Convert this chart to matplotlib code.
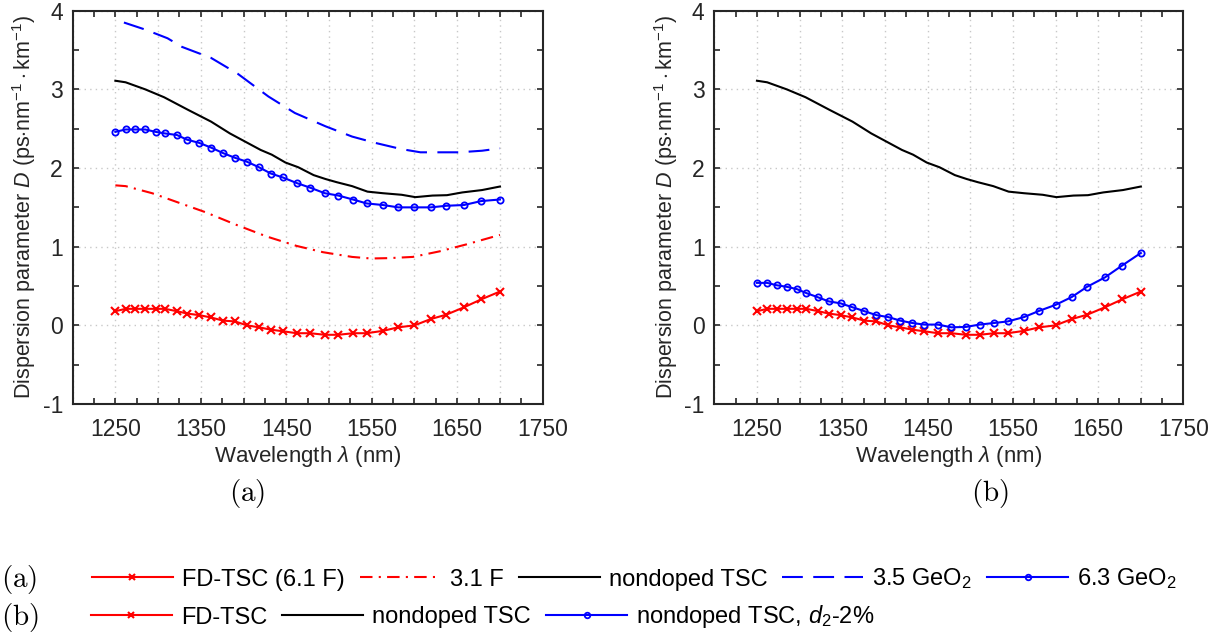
import matplotlib
matplotlib.use("Agg")
import matplotlib.pyplot as plt
from matplotlib.ticker import FixedLocator, MultipleLocator, FuncFormatter

plt.rcParams['font.family'] = ['Liberation Sans', 'DejaVu Sans']
plt.rcParams['mathtext.fontset'] = 'custom'
plt.rcParams['mathtext.rm'] = 'Liberation Sans'
plt.rcParams['mathtext.it'] = 'Liberation Sans:italic'
plt.rcParams['mathtext.bf'] = 'Liberation Sans:bold'
plt.rcParams['axes.unicode_minus'] = False

# datos
lam_m = [1250, 1262, 1273, 1285, 1297, 1308, 1322, 1334, 1348, 1362,
         1376, 1390, 1404, 1418, 1432, 1446, 1462, 1478, 1495, 1511,
         1528, 1544, 1563, 1581, 1600, 1619, 1637, 1658, 1678, 1700]
fd_tsc = [0.18, 0.21, 0.21, 0.21, 0.21, 0.21, 0.18, 0.15, 0.13, 0.10,
          0.06, 0.05, 0.00, -0.025, -0.055, -0.075, -0.10, -0.10, -0.12, -0.12,
          -0.10, -0.10, -0.07, -0.025, 0.00, 0.08, 0.135, 0.23, 0.33, 0.43]
geo_63 = [2.46, 2.49, 2.49, 2.49, 2.46, 2.44, 2.42, 2.36, 2.32, 2.26,
          2.19, 2.13, 2.08, 2.01, 1.93, 1.88, 1.81, 1.75, 1.68, 1.65,
          1.60, 1.55, 1.53, 1.50, 1.50, 1.50, 1.52, 1.53, 1.58, 1.60]
d2_menos2 = [0.54, 0.54, 0.51, 0.49, 0.46, 0.41, 0.355, 0.305, 0.28, 0.23,
             0.18, 0.13, 0.105, 0.06, 0.03, 0.01, 0.01, -0.025, -0.02, 0.01,
             0.03, 0.05, 0.105, 0.185, 0.26, 0.36, 0.49, 0.61, 0.76, 0.92]

lam_nd = [1250, 1262, 1285, 1307, 1335, 1362, 1384, 1420, 1433, 1449, 1464,
          1482, 1496, 1509, 1527, 1545, 1563, 1585, 1601, 1621, 1638, 1656, 1679, 1700]
nondoped = [3.11, 3.09, 3.00, 2.90, 2.74, 2.59, 2.44, 2.23, 2.17, 2.07, 2.01,
            1.91, 1.86, 1.82, 1.77, 1.70, 1.68, 1.66, 1.63, 1.65, 1.655, 1.69, 1.72, 1.765]

lam_35 = [1260, 1285, 1311, 1328, 1362, 1393, 1429, 1460, 1496, 1527, 1554,
          1585, 1607, 1629, 1652, 1679, 1700]
geo_35 = [3.85, 3.76, 3.65, 3.54, 3.40, 3.20, 2.91, 2.70, 2.53, 2.40, 2.32,
          2.24, 2.20, 2.20, 2.20, 2.22, 2.25]

lam_31 = [1250, 1262, 1293, 1324, 1355, 1391, 1427, 1462, 1493, 1527, 1549,
          1571, 1598, 1629, 1661, 1700]
f_31 = [1.78, 1.77, 1.68, 1.56, 1.44, 1.28, 1.13, 1.01, 0.93, 0.87, 0.85,
        0.855, 0.87, 0.94, 1.03, 1.15]

xlabel = r'Wavelength $\lambda$ (nm)'
ylabel = r'Dispersion parameter $D$ (ps$\cdot$nm$^{-1}\cdot$km$^{-1}$)'
fs_lab = 16
fs_leg = 17

fig = plt.figure(figsize=(12.25, 6.42), dpi=100)
ax1 = fig.add_axes([0.0593, 0.3707, 0.3837, 0.6126])
ax2 = fig.add_axes([0.5831, 0.3707, 0.3830, 0.6126])

lw = 1.5
# panel (a)
h_fd, = ax1.plot(lam_m, fd_tsc, color='red', lw=lw, marker='x', ms=6, mew=1.5)
h_31, = ax1.plot(lam_31, f_31, color='red', lw=lw, ls=(0, (6, 3, 1, 3)))
h_nd, = ax1.plot(lam_nd, nondoped, color='black', lw=lw)
h_35, = ax1.plot(lam_35, geo_35, color='blue', lw=lw, ls=(0, (10, 5)))
h_63, = ax1.plot(lam_m, geo_63, color='blue', lw=lw, marker='o', ms=4.5,
                 mfc='none', mew=1.3)

# panel (b)
g_fd, = ax2.plot(lam_m, fd_tsc, color='red', lw=lw, marker='x', ms=6, mew=1.5)
g_nd, = ax2.plot(lam_nd, nondoped, color='black', lw=lw)
g_d2, = ax2.plot(lam_m, d2_menos2, color='blue', lw=lw, marker='o', ms=4.5,
                 mfc='none', mew=1.3)

def etiqueta(v, pos):
    v = int(round(v))
    if (v - 1250) % 100 == 0:
        return str(v)
    return ''

for ax in (ax1, ax2):
    ax.set_xlim(1200, 1750)
    ax.set_ylim(-1, 4)
    ax.xaxis.set_major_locator(FixedLocator(list(range(1200, 1751, 50))))
    ax.xaxis.set_major_formatter(FuncFormatter(etiqueta))
    ax.xaxis.set_minor_locator(MultipleLocator(25))
    ax.yaxis.set_major_locator(MultipleLocator(1))
    ax.yaxis.set_minor_locator(MultipleLocator(0.5))
    ax.tick_params(which='both', direction='in', top=True, right=True,
                   width=1.2, length=4, colors='#262626', labelcolor='#262626')
    ax.tick_params(axis='x', which='major', pad=10, labelsize=16.5)
    ax.tick_params(axis='y', which='major', pad=7, labelsize=16.5)
    ax.grid(True, which='major', ls=(0, (1, 3)), color='#c8c8c8', lw=1.0)
    for s in ax.spines.values():
        s.set_linewidth(1.5)
        s.set_color('#262626')
    ax.set_xlabel(xlabel, fontsize=fs_lab, labelpad=2, color='#262626')
    ax.set_ylabel(ylabel, fontsize=15.5, labelpad=3, color='#262626')

fig.text(247 / 1225, 1 - 493 / 642, r'$\mathrm{(a)}$', fontsize=21,
         ha='center', va='center', math_fontfamily='cm')
fig.text(990 / 1225, 1 - 493 / 642, r'$\mathrm{(b)}$', fontsize=21,
         ha='center', va='center', math_fontfamily='cm')
fig.text(0.001, 1 - 579 / 642, r'$\mathrm{(a)}$', fontsize=21,
         ha='left', va='center', math_fontfamily='cm')
fig.text(0.001, 1 - 617 / 642, r'$\mathrm{(b)}$', fontsize=21,
         ha='left', va='center', math_fontfamily='cm')

opts = dict(loc='center left', frameon=False, fontsize=fs_leg, borderpad=0,
            borderaxespad=0, handlelength=3.43, handletextpad=0.38,
            columnspacing=0.64, numpoints=1)
leg_a = fig.legend([h_fd, h_31, h_nd, h_35, h_63],
                   ['FD-TSC (6.1 F)', '3.1 F', 'nondoped TSC',
                    r'3.5 GeO$_2$', r'6.3 GeO$_2$'],
                   ncol=5, bbox_to_anchor=(92 / 1225, 1 - 579 / 642), **opts)
leg_b = fig.legend([g_fd, g_nd, g_d2],
                   ['FD-TSC', 'nondoped TSC', r'nondoped TSC, $d_2$-2%'],
                   ncol=3, bbox_to_anchor=(91 / 1225, 1 - 617 / 642), **opts)
for lg in (leg_a, leg_b):
    for ln in lg.get_lines():
        ln.set_markersize(4)

fig.savefig('out.png', dpi=100)
